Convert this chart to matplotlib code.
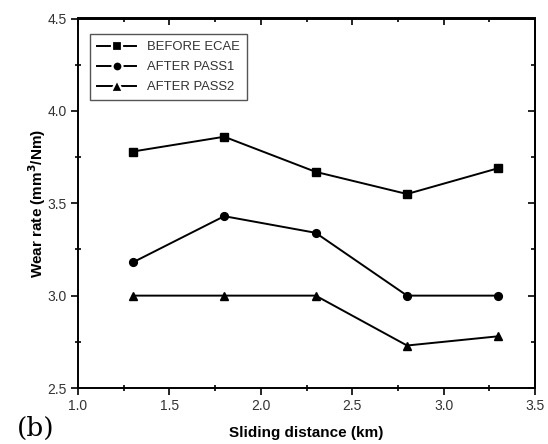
import matplotlib
matplotlib.use("Agg")
import matplotlib.pyplot as plt
from matplotlib.ticker import MultipleLocator

distance = [1.3, 1.8, 2.3, 2.8, 3.3]
before_ecae = [3.78, 3.86, 3.67, 3.55, 3.69]
after_pass1 = [3.18, 3.43, 3.34, 3.00, 3.00]
after_pass2 = [3.00, 3.00, 3.00, 2.73, 2.78]

plt.rcParams['font.family'] = ['Liberation Sans', 'DejaVu Sans']

W, H = 548, 444
L, R, T, B = 78, 535, 18.5, 388
fig = plt.figure(figsize=(W / 100, H / 100), dpi=100)
ax = fig.add_axes([L / W, 1 - B / H, (R - L) / W, (B - T) / H])

ax.plot(distance, before_ecae, '-s', color='black', lw=1.4, ms=5.2, label='BEFORE ECAE')
ax.plot(distance, after_pass1, '-o', color='black', lw=1.4, ms=5.6, label='AFTER PASS1')
ax.plot(distance, after_pass2, '-^', color='black', lw=1.4, ms=6.3, label='AFTER PASS2')

ax.set_xlim(1.0, 3.5)
ax.set_ylim(2.5, 4.5)
ax.xaxis.set_major_locator(MultipleLocator(0.5))
ax.xaxis.set_minor_locator(MultipleLocator(0.25))
ax.yaxis.set_major_locator(MultipleLocator(0.5))
ax.yaxis.set_minor_locator(MultipleLocator(0.25))
ax.tick_params(which='both', width=1.2, labelsize=10, labelcolor='#333333')
ax.tick_params(which='major', direction='out', length=5, pad=3)
ax.tick_params(which='minor', direction='inout', length=4)
for s in ax.spines.values():
    s.set_linewidth(1.4)

# top and right ticks point inward
top = ax.secondary_xaxis('top')
top.xaxis.set_major_locator(MultipleLocator(0.5))
top.xaxis.set_minor_locator(MultipleLocator(0.25))
top.tick_params(which='both', direction='in', labeltop=False, width=1.2)
top.tick_params(which='major', length=5)
top.tick_params(which='minor', length=3)
right = ax.secondary_yaxis('right')
right.yaxis.set_major_locator(MultipleLocator(0.5))
right.yaxis.set_minor_locator(MultipleLocator(0.25))
right.tick_params(which='both', direction='in', labelright=False, width=1.2)
right.tick_params(which='major', length=5)
right.tick_params(which='minor', length=3)
top.spines['top'].set_linewidth(1.4)
right.spines['right'].set_linewidth(1.4)

ax.set_xlabel('Sliding distance (km)', fontweight='bold', fontsize=11, va='center')
ax.xaxis.set_label_coords(0.5, (B - 433) / (B - T))
ax.set_ylabel('Wear rate (mm$^\\mathbf{3}$/Nm)', fontweight='bold', fontsize=11, va='center')
ax.yaxis.set_label_coords((37 - L) / (R - L), 0.5)

leg = ax.legend(loc='upper left', bbox_to_anchor=((90 - L) / (R - L), (B - 34) / (B - T)),
                borderaxespad=0, fancybox=False, edgecolor='#555555', fontsize=9.4,
                handlelength=3.0, handletextpad=0.8, borderpad=0.55, labelspacing=0.6,
                framealpha=1)
leg.get_frame().set_linewidth(1.0)
for t in leg.get_texts():
    t.set_color('#333333')
for h in leg.legend_handles:
    h.set_markeredgecolor('white')
    h.set_markeredgewidth(1.6)
    extra = 2.8 if h.get_marker() == '^' else 1.6
    h.set_markersize(h.get_markersize() + extra)

fig.text(17 / W, 1 - 428 / H, '(b)', fontsize=19, family='DejaVu Serif', va='center')

fig.savefig('out.png', dpi=100)
